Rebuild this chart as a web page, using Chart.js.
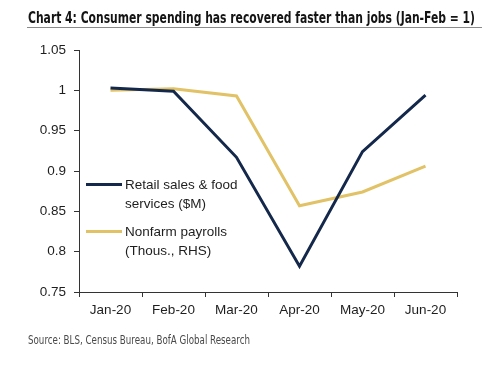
<!DOCTYPE html>
<html><head><meta charset="utf-8">
<script src="https://cdn.jsdelivr.net/npm/chart.js@4"></script>
<style>
html,body{margin:0;padding:0;background:#fff;}
#wrap{position:relative;width:500px;height:366px;overflow:hidden;font-family:"Liberation Sans",Arial,sans-serif;}
#c{position:absolute;left:0;top:0;}
.fit{position:absolute;white-space:nowrap;transform-origin:0 0;}
#title{left:28px;top:9px;font-weight:bold;font-size:15px;font-family:"Liberation Sans Narrow","DejaVu Sans Condensed","Liberation Sans",sans-serif;color:#141414;}
#rule{position:absolute;left:27px;top:27px;width:455px;height:1px;background:#8a8a8a;}
#source{left:28px;top:333px;font-size:12px;font-family:"Liberation Sans Narrow","DejaVu Sans Condensed","Liberation Sans",sans-serif;color:#4a4a4a;}
.lg{position:absolute;left:86px;width:36px;height:3px;}
.lt{position:absolute;left:125px;font-size:13.5px;line-height:19px;color:#1e1e1e;font-family:"Liberation Sans",Arial,sans-serif;}
</style></head>
<body><div id="wrap">
<canvas id="c" width="500" height="366"></canvas>
<div id="title" class="fit">Chart 4: Consumer spending has recovered faster than jobs (Jan-Feb = 1)</div>
<div id="rule"></div>
<div id="lg1" class="lg" style="top:183px"></div>
<div class="lt" style="top:175px">Retail sales &amp; food<br>services ($M)</div>
<div id="lg2" class="lg" style="top:230px"></div>
<div class="lt" style="top:222px">Nonfarm payrolls<br>(Thous., RHS)</div>
<div id="source" class="fit">Source: BLS, Census Bureau, BofA Global Research</div>
</div>
<script>
const months = ["Jan-20","Feb-20","Mar-20","Apr-20","May-20","Jun-20"];
const retailSales = [1.003, 0.999, 0.917, 0.782, 0.924, 0.994];
const nonfarmPayrolls = [1.000, 1.002, 0.993, 0.857, 0.874, 0.906];
const seriesNames = ["Retail sales & food services ($M)", "Nonfarm payrolls (Thous., RHS)"];
const navy = "#14284b", gold = "#e2c266";

document.getElementById("lg1").style.background = navy;
document.getElementById("lg2").style.background = gold;

function fitWidth(id, w){
  const el = document.getElementById(id);
  const cur = el.getBoundingClientRect().width;
  el.style.transform = "scaleX(" + (w/cur) + ")";
}
fitWidth("title", 447);
fitWidth("source", 222);

const tickFont = {family:"'Liberation Sans', Arial, sans-serif", size:13.5};
new Chart(document.getElementById("c"), {
  type: "line",
  data: {
    labels: months,
    datasets: [
      {label: seriesNames[0], data: retailSales, borderColor: navy, backgroundColor: navy, borderWidth: 3, pointRadius: 0, tension: 0},
      {label: seriesNames[1], data: nonfarmPayrolls, borderColor: gold, backgroundColor: gold, borderWidth: 3, pointRadius: 0, tension: 0}
    ]
  },
  options: {
    responsive: false,
    animation: false,
    events: [],
    layout: {padding: {left: 0, right: 43, top: 50, bottom: 44}},
    plugins: {legend: {display: false}, tooltip: {enabled: false}, title: {display: false}},
    scales: {
      x: {
        offset: true,
        grid: {offset: true, drawOnChartArea: false, drawTicks: true, tickLength: 5, color: "#333"},
        border: {color: "#333", width: 1},
        ticks: {color: "#1e1e1e", font: tickFont, padding: 5, maxRotation: 0, autoSkip: false},
        afterFit: s => { s.height = 30; }
      },
      y: {
        min: 0.75, max: 1.05,
        grid: {drawOnChartArea: false, drawTicks: true, tickLength: 5, color: "#333"},
        border: {color: "#333", width: 1},
        ticks: {stepSize: 0.05, color: "#1e1e1e", font: tickFont, padding: 8,
          callback: v => String(parseFloat(Number(v).toFixed(2)))},
        afterFit: s => { s.width = 79; }
      }
    }
  }
});
</script>
</body></html>
